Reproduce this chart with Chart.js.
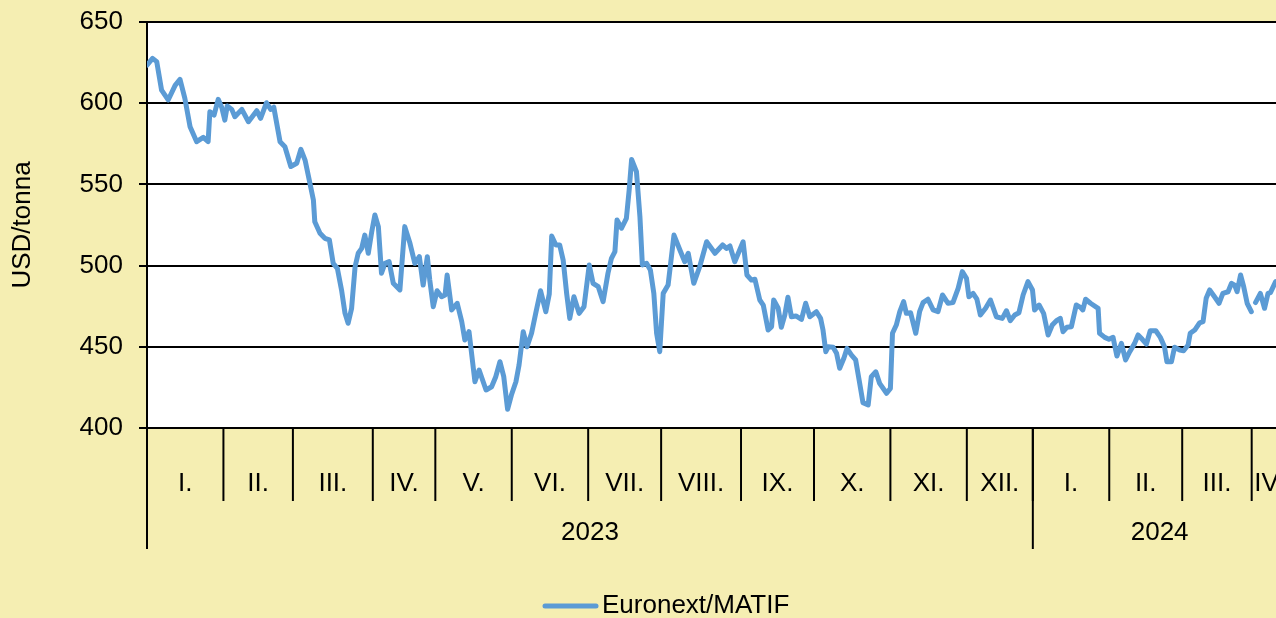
<!DOCTYPE html>
<html>
<head>
<meta charset="utf-8">
<script src="https://cdn.jsdelivr.net/npm/chart.js@4.4.1/dist/chart.umd.min.js"></script>
<style>
  html, body { margin: 0; padding: 0; background: #F5EEB2; }
  canvas { display: block; }
</style>
</head>
<body>
<canvas id="myChart" width="1276" height="618"></canvas>
<script>
// trading-day index (from 2 Jan 2023) and price
const days = [0,1.6,2.8,4.2,6.1,8.1,9.5,10.9,12.4,14.3,
    16.2,17.6,18.1,19.3,20.5,21.5,22.4,23.1,24.4,25.3,
    27.3,29.2,31.6,32.7,34.4,35.6,36.5,38.3,39.7,41.4,
    43.1,44.3,45.5,46.9,47.9,48.3,49.8,51.2,52.5,53.6,
    54.8,56.0,57.0,57.9,58.9,59.9,60.8,61.8,62.7,63.7,
    64.7,65.6,66.6,67.5,68.5,69.7,70.9,72.8,74.2,75.7,
    77.1,78.4,79.5,80.7,81.4,82.4,83.5,84.8,85.8,86.4,
    87.7,89.3,90.6,91.5,92.7,94.4,95.6,97.6,99.2,100.4,
    101.6,102.7,103.8,104.9,106.2,107.1,108.3,109.4,110.7,111.9,
    113.3,114.8,115.8,116.5,117.7,118.8,119.8,120.8,121.7,122.9,
    124.4,125.8,127.3,128.4,129.9,131.3,132.7,133.7,134.7,135.3,
    136.6,138.0,138.8,139.5,140.9,141.9,142.6,143.8,144.9,145.9,
    146.7,147.6,148.6,150.0,151.7,153.4,154.8,155.8,157.4,159.1,
    161.1,163.5,165.7,166.8,167.8,169.2,171.6,172.7,174.0,175.0,
    176.4,177.4,178.8,179.8,180.4,181.7,182.6,183.6,184.5,185.5,
    186.8,188.4,189.6,190.8,192.7,193.9,194.6,195.4,196.1,197.5,
    198.5,199.4,200.6,201.5,202.8,204.0,205.0,206.1,207.6,208.5,
    209.8,210.9,212.9,214.0,214.6,215.7,216.7,217.8,218.6,219.8,
    221.3,222.4,223.4,224.8,226.3,227.7,229.0,230.6,232.0,233.5,
    234.7,235.9,236.6,237.8,238.9,239.9,241.4,242.8,244.5,246.2,
    247.4,248.5,249.8,251.0,252.2,253.6,254.9,255.5,256.8,258.1,
    259.4,260.6,261.8,262.9,263.7,264.8,266.1,267.5,268.7,269.4,
    270.2,271.6,273.8,274.2,275.7,276.9,278.1,279.2,280.5,281.7,
    282.9,284.3,285.3,286.5,287.7,288.8,290.4,291.7,292.9,293.6,
    294.9,295.8,297.3,298.4,299.7,300.3,301.6,303.0,304.0,304.9,
    305.9,307.3,308.6,309.7,311.2,312.2,313.1,313.8,314.8,315.7,
    316.7,317.9,318.5,319.1,320.5,321.7,322.7,323.4,324.9]

const prices = [623.5,627.6,625.6,608,602,611,614.7,603,585.5,576.3,
    579,576.3,594.8,592.7,602.4,597.5,589.6,598.3,596.2,591.7,
    596.2,588.6,595.4,590.7,600.3,596.2,597.5,576.3,573.2,561,
    563,571.6,565,550.7,540.4,527,519.9,516.8,515.8,501.4,
    498.3,485,470.6,464.5,473.7,499.3,507.6,510.6,518.8,507.6,
    520.9,531.2,524,495.3,501.4,502.4,489.1,485,524,513.7,
    501.4,505.5,488,505.5,491.1,474.7,484.5,480.8,481.9,494.2,
    472.7,476.8,465.5,454.2,459.3,428.5,435.7,423.4,425.4,431.6,
    440.8,431.6,411.5,420.3,428.5,438.8,459.3,450,458.3,470.6,
    484.5,471.6,482.5,518.2,512.7,512.7,503.4,482.9,467.5,480.8,
    470.6,474.7,500.4,489.1,487,477.8,495.3,504.5,508.6,528.1,
    523,529.1,546.5,565.4,557.8,530,500.4,501.4,497.3,482.9,
    458.3,447,482.9,488,518.8,509.6,502.4,507.6,489.1,499.3,
    514.7,507.6,512.7,510.6,512.1,502.4,514.7,494.2,491.1,491.6,
    478.8,475.7,460.3,462.4,478.8,473.7,462,469.6,480.5,468.5,
    469,466.9,476.8,468.5,471.6,467.5,460.3,447,450,449.7,
    446,436.8,442.9,449,444.9,441.9,429.5,415.6,414.2,431.6,
    434.6,427.5,421.4,424.4,458.3,463.4,471.6,477.8,470.6,471,
    458.3,471.6,477.2,479.3,472.7,471.6,481.9,476.8,477.2,486,
    496.3,492.2,480.8,482.9,479.3,469.6,473.7,478.8,468.5,467.5,
    472.2,466.1,469.6,471,481.9,490.1,485,472.7,475.7,470.6,
    457.3,463.4,466.1,467.5,459.3,462,462.4,475.7,474.3,472.7,
    479.3,476.8,473.7,458.3,455.8,454.6,455.8,444.3,452.1,441.9,
    447,452.1,457.3,454.6,451.7,459.9,459.9,455.8,450,440.8,
    440.8,449.7,448,447.6,451.1,458.3,460.3,464.8,465.5,479.9,
    485,480.8,476.8,482.9,483.9,489.1,488,483.9,494.2,487,
    476.8,471.6,null,477.2,482.9,473.7,482.9,483.4,490.1]

const monthLabels = ['I.', 'II.', 'III.', 'IV.', 'V.', 'VI.', 'VII.', 'VIII.', 'IX.', 'X.', 'XI.', 'XII.',
    'I.', 'II.', 'III.', 'IV.']
const monthDays = [22, 20, 23, 18, 22, 22, 21, 23, 21, 22, 22, 19, 22, 21, 20, 10]
const yearLabels = ['2023', '2024']
const yearMonths = [12, 4]

const FONT = '"Liberation Sans", Arial, sans-serif'
const lineColor = '#5B9BD5'

const background = {
    id: 'background',
    beforeDraw(chart) {
        const { ctx, chartArea: a } = chart
        ctx.save()
        ctx.fillStyle = '#F5EEB2'
        ctx.fillRect(0, 0, chart.width, chart.height)
        ctx.fillStyle = '#ffffff'
        ctx.fillRect(a.left, a.top, a.right - a.left, a.bottom - a.top)
        ctx.restore()
    }
}

// two level category axis (months / years) and the legend below it
const categoryAxis = {
    id: 'categoryAxis',
    afterDraw(chart) {
        const { ctx, chartArea, scales: { x } } = chart
        const top = chartArea.bottom
        const vline = (px, len) => {
            ctx.beginPath()
            ctx.moveTo(px, top)
            ctx.lineTo(px, top + len)
            ctx.stroke()
        }
        ctx.save()
        ctx.strokeStyle = '#000'
        ctx.fillStyle = '#000'
        ctx.lineWidth = 2
        ctx.font = '26px ' + FONT
        ctx.textAlign = 'center'
        ctx.textBaseline = 'middle'

        let start = 0
        monthDays.forEach((n, i) => {
            vline(x.getPixelForValue(start), 73)
            ctx.fillText(monthLabels[i], x.getPixelForValue(start + n / 2), top + 56)
            start += n
        })

        start = 0
        let m = 0
        yearMonths.forEach((count, i) => {
            const first = start
            for (let k = 0; k < count; k++) start += monthDays[m++]
            vline(x.getPixelForValue(first), 121)
            ctx.fillText(yearLabels[i], x.getPixelForValue((first + start) / 2), top + 105)
        })

        // legend
        const ds = chart.data.datasets[0]
        ctx.strokeStyle = ds.borderColor
        ctx.lineWidth = 5
        ctx.lineCap = 'round'
        ctx.beginPath()
        ctx.moveTo(545, 606)
        ctx.lineTo(596, 606)
        ctx.stroke()
        ctx.textAlign = 'left'
        ctx.fillText(ds.label, 602, 606)
        ctx.restore()
    }
}

const ctx = document.getElementById('myChart').getContext('2d')

const myChart = new Chart(ctx, {
    type: 'line',
    data: {
        datasets: [
            {
                label: 'Euronext/MATIF',
                data: days.map((d, i) => ({ x: d, y: prices[i] })),
                borderColor: lineColor,
                backgroundColor: lineColor,
                borderWidth: 5,
                borderJoinStyle: 'round',
                borderCapStyle: 'round',
                pointRadius: 0,
                tension: 0,
                spanGaps: false
            }
        ]
    },
    options: {
        responsive: false,
        animation: false,
        devicePixelRatio: 1,
        layout: { padding: { top: 22, right: 0, bottom: 0, left: 0 } },
        plugins: {
            legend: { display: false },
            tooltip: { enabled: false }
        },
        scales: {
            x: {
                type: 'linear',
                min: 0,
                max: 325,
                grid: { display: false },
                ticks: { display: false },
                border: { display: true, color: '#000', width: 2 },
                afterFit: function (scale) { scale.height = 190 }
            },
            y: {
                min: 400,
                max: 650,
                ticks: {
                    stepSize: 50,
                    color: '#000',
                    padding: 16,
                    font: { family: FONT, size: 26 }
                },
                grid: { color: '#000', lineWidth: 2, tickLength: 8 },
                border: { display: true, color: '#000', width: 2 },
                title: {
                    display: true,
                    text: 'USD/tonna',
                    color: '#000',
                    padding: { top: 7, bottom: 0 },
                    font: { family: FONT, size: 26 }
                },
                afterFit: function (scale) {
                    scale.width = 147
                    scale.paddingTop = 0
                    scale.paddingBottom = 0
                }
            }
        }
    },
    plugins: [background, categoryAxis]
})
</script>
</body>
</html>
